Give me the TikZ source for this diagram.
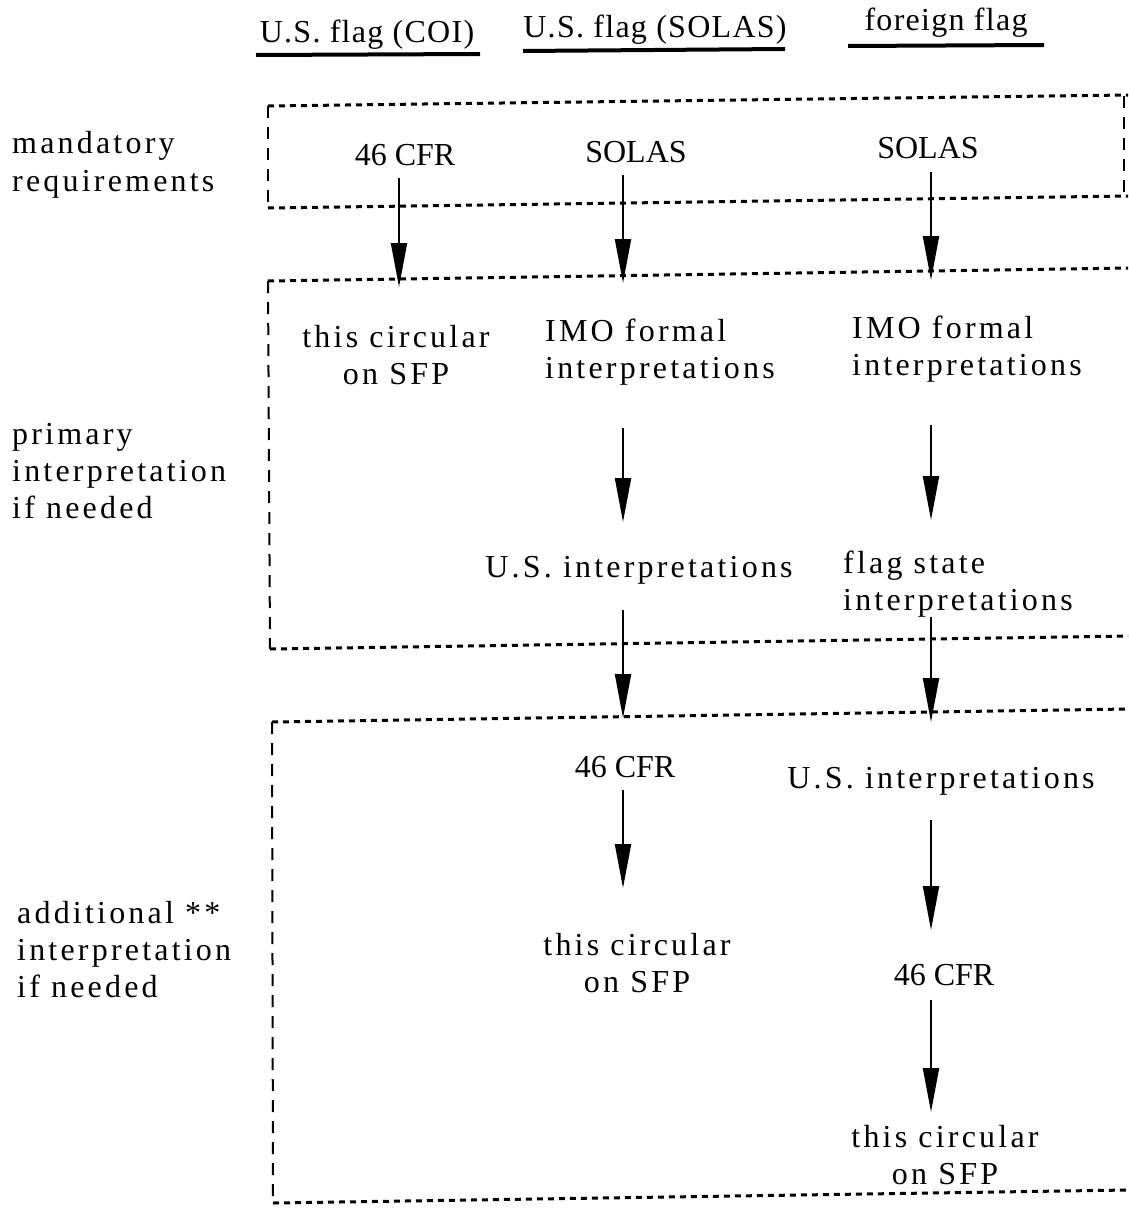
\documentclass[tikz,border=0pt]{standalone}
\usepackage{fontspec}
\setmainfont{Liberation Serif}
\newfontfamily\lsfont{Liberation Serif}[LetterSpace=10]
\newfontfamily\hdfont{Liberation Serif}[LetterSpace=4]
\usetikzlibrary{arrows.meta}
\tikzset{
  txt/.style={inner sep=0pt, anchor=base, font=\fontsize{32}{37}\selectfont\lsfont},
  plaintxt/.style={inner sep=0pt, anchor=base, font=\fontsize{32}{37}\selectfont},
  headtxt/.style={inner sep=0pt, anchor=base, font=\fontsize{32}{37}\selectfont\hdfont},
  uline/.style={line width=4pt},
  hdash/.style={line width=3pt, dash pattern=on 6pt off 5pt},
  vdash/.style={line width=2pt, dash pattern=on 12pt off 9pt},
  arr/.style={line width=2pt, -{Triangle[length=44pt,width=16pt]}}
}
\begin{document}
\begin{tikzpicture}[x=1pt,y=-1pt]
\useasboundingbox (0,0) rectangle (1128,1209);
% column headers
\node[headtxt] (h1) at (367,43) {U.S. flag (COI)};
\node[headtxt] (h2) at (655,38) {U.S. flag (SOLAS)};
\node[headtxt] (h3) at (946,31) {foreign flag};
\draw[uline] (256,55) -- (480,54);
\draw[uline] (523,51) -- (785,49);
\draw[uline] (848,46) -- (1044,45);
% row labels (base = last line)
\node[txt, anchor=base west, align=left] (l1) at (12,191) {mandatory\\requirements};
\node[txt, anchor=base west, align=left] (l2) at (12,518) {primary\\interpretation\\if needed};
\node[txt, anchor=base west, align=left] (l3) at (17,997) {additional **\\interpretation\\if needed};
% dashed boxes
\draw[hdash] (268,106) -- (1128,95);
\draw[hdash] (268,208) -- (1128,196);
\draw[vdash] (268,106) -- (268,208);
\draw[vdash] (1124,96) -- (1124,192);
\draw[hdash] (268,281) -- (1128,268);
\draw[hdash] (270,649) -- (1128,636);
\draw[vdash] (268,281) -- (270,649);
\draw[hdash] (272,722) -- (1128,709);
\draw[hdash] (273,1203) -- (1128,1190);
\draw[vdash] (272,722) -- (273,1203);
% column coordinates
\coordinate (colA) at (399,0);
\coordinate (colB) at (623,0);
\coordinate (colC) at (931,0);
% nodes
\node[plaintxt] (n1) at (405,166) {46 CFR};
\node[plaintxt] (n2) at (636,163) {SOLAS};
\node[plaintxt] (n3) at (928,159) {SOLAS};
\node[txt, align=center] (c1) at (396,384) {this circular\\on SFP};
\node[txt, anchor=base west, align=left] (i2) at (545,378) {IMO formal\\interpretations};
\node[txt, anchor=base west, align=left] (i3) at (852,375) {IMO formal\\interpretations};
\node[txt] (u2) at (639,577) {U.S. interpretations};
\node[txt, anchor=base west, align=left] (f3) at (843,610) {flag state\\interpretations};
\node[plaintxt] (m2) at (625,777) {46 CFR};
\node[txt] (u3) at (941,788) {U.S. interpretations};
\node[txt, align=center] (t2) at (637,992) {this circular\\on SFP};
\node[plaintxt] (m3) at (944,985) {46 CFR};
\node[txt, align=center] (t3) at (945,1184) {this circular\\on SFP};
% arrows
\draw[arr] ([yshift=-12pt]n1.base -| colA) -- ([yshift=97pt]c1.base -| colA);
\draw[arr] ([yshift=-12pt]n2.base -| colB) -- ([yshift=95pt]i2.base -| colB);
\draw[arr] ([yshift=-13pt]n3.base -| colC) -- ([yshift=95pt]i3.base -| colC);
\draw[arr] ([yshift=-50pt]i2.base -| colB) -- ([yshift=55pt]u2.base -| colB);
\draw[arr] ([yshift=-50pt]i3.base -| colC) -- ([yshift=90pt]f3.base -| colC);
\draw[arr] ([yshift=-33pt]u2.base -| colB) -- ([yshift=59pt]m2.base -| colB);
\draw[arr] ([yshift=-7pt]f3.base -| colC) -- ([yshift=66pt]u3.base -| colC);
\draw[arr] ([yshift=-13pt]m2.base -| colB) -- ([yshift=104pt]t2.base -| colB);
\draw[arr] ([yshift=-32pt]u3.base -| colC) -- ([yshift=55pt]m3.base -| colC);
\draw[arr] ([yshift=-15pt]m3.base -| colC) -- ([yshift=72pt]t3.base -| colC);
\end{tikzpicture}
\end{document}
